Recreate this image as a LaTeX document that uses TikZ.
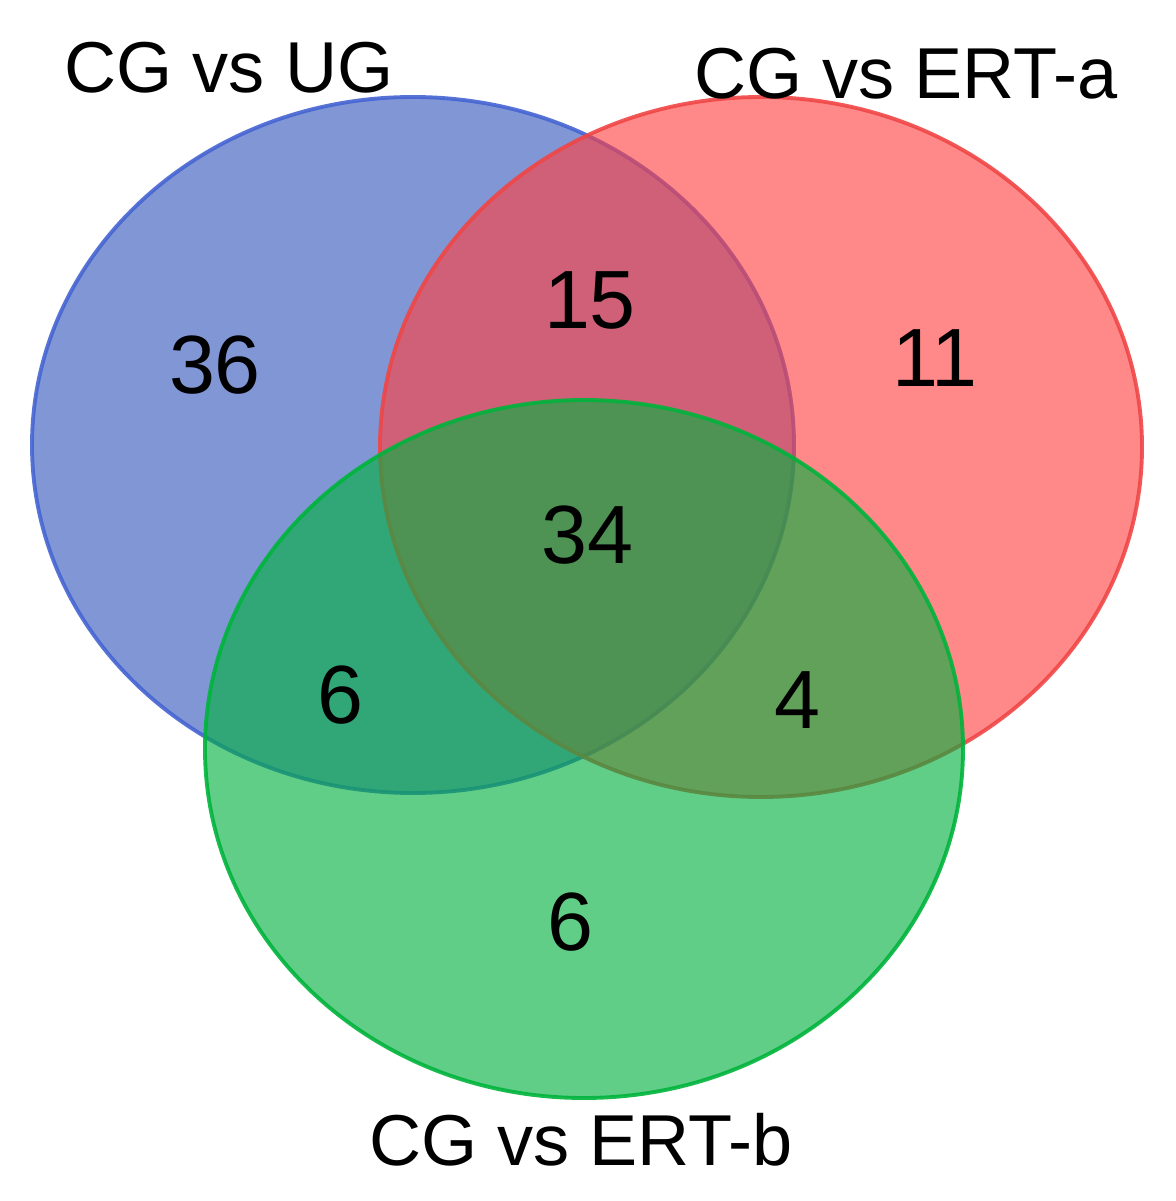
\documentclass[tikz,border=0pt]{standalone}
\usepackage{fontspec}
\setmainfont{Liberation Sans}
\definecolor{cb}{RGB}{52,88,188}
\definecolor{cr}{RGB}{255,63,63}
\definecolor{cg}{RGB}{0,177,63}
\definecolor{lb}{RGB}{70,100,210}
\definecolor{lr}{RGB}{240,70,70}
\definecolor{lg}{RGB}{0,180,60}
\begin{document}
\begin{tikzpicture}[x=0.01cm,y=-0.01cm,
  set/.style={fill opacity=0.62,line width=1.1pt,draw opacity=0.9},
  lab/.style={font=\fontsize{20.5}{23}\selectfont},
  num/.style={font=\fontsize{23.5}{26}\selectfont}]
\useasboundingbox (0,0) rectangle (1175,1201);
\fill[white] (0,0) rectangle (1175,1201);
\path[set,fill=cb,draw=lb] (413,445) ellipse [x radius=381,y radius=348];
\path[set,fill=cr,draw=lr] (761,447) ellipse [x radius=381,y radius=350];
\path[set,fill=cg,draw=lg] (584,749) ellipse [x radius=379,y radius=349];
\node[lab] (l1) at (229,68) {CG vs UG};
\node[lab] (l2) at (906,74) {CG vs ERT-a};
\node[lab] (l3) at (581,1140) {CG vs ERT-b};
\node[num] (n1) at (215,365) {36};
\node[num] (n2) at (590,300) {15};
\node[num] (n3) at (935,358) {11};
\node[num] (n4) at (587,535) {34};
\node[num] (n5) at (340,695) {6};
\node[num] (n6) at (797,700) {4};
\node[num] (n7) at (570,922) {6};
\end{tikzpicture}
\end{document}
